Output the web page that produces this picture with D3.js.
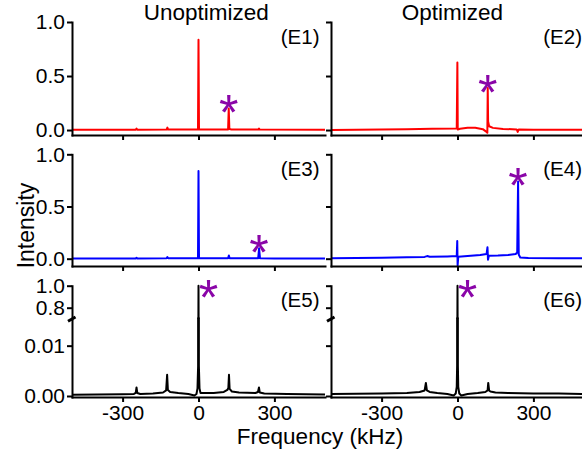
<!DOCTYPE html>
<html>
<head>
<meta charset="utf-8">
<script src="https://cdn.jsdelivr.net/npm/d3@7/dist/d3.min.js"></script>
<style>
  body { margin: 0; background: #fff; }
  text { font-family: "Liberation Sans", Arial, sans-serif; }
</style>
</head>
<body>
<script>
// spectra as [frequency (kHz), intensity]
var e1 = [[-500,0.003],[-300,0.003],[-248,0.003],[-245,0.014],[-242,0.003],[-126,0.004],[-123,0.022],[-120,0.004],
  [-2,0.004],[0,0.836],[2,0.004],[117,0.006],[119.5,0.2],[122,0.01],[130,0.005],[236,0.004],[239,0.014],[242,0.004],[500,0.003]];
var e2 = [[-500,0.0],[-400,0.002],[-300,0.004],[-200,0.007],[-100,0.012],[-3,0.014],[-0.5,0.625],[1,0.005],[10,0.012],
  [40,0.022],[70,0.022],[100,0.008],[112,-0.012],[118,-0.025],[119.5,0.39],[121,0.08],[125,0.035],[140,0.02],[180,0.01],
  [234,0.006],[238,-0.018],[242,0.005],[300,0.003],[400,0.002],[500,0.002]];
var e3 = [[-500,0.002],[-300,0.003],[-248,0.003],[-245,0.008],[-242,0.003],[-126,0.004],[-123,0.016],[-120,0.004],
  [-2,0.004],[0,0.84],[2,0.004],[117,0.005],[120,0.03],[123,0.005],[236,0.005],[239.5,0.1],[243,0.005],[300,0.003],[500,0.002]];
var e4 = [[-500,0.004],[-400,0.006],[-300,0.009],[-200,0.013],[-130,0.017],[-120,0.025],[-110,0.018],[-40,0.022],
  [-3,0.025],[-1,0.17],[0.5,-0.065],[3,0.018],[40,0.025],[90,0.035],[115,0.045],[118.5,0.11],[120.5,-0.01],[124,0.028],
  [160,0.03],[200,0.035],[230,0.045],[236,0.06],[239.5,0.74],[242,0.04],[248,0.012],[280,0.006],[400,0.004],[500,0.003]];
var e5 = [[-500,0.00025],[-400,0.0003],[-300,0.00035],[-255,0.0004],[-248,0.0006],[-245,0.0017],[-242,0.0006],[-230,0.0004],
  [-180,0.0005],[-140,0.0007],[-128,0.0011],[-124,0.0042],[-121,0.0012],[-112,0.0008],[-80,0.0006],[-40,0.0004],[-16,0.0001],
  [-8,0.0004],[-4,0.0015],[-1.5,0.006],[0,1.0],[1.5,0.006],[4,0.0015],[8,0.0006],[20,0.0006],[60,0.0006],[100,0.0008],
  [114,0.0012],[118,0.0016],[120.5,0.0042],[123,0.0014],[132,0.0009],[160,0.0007],[225,0.0006],[235,0.0008],[239,0.0017],
  [242,0.0007],[260,0.0005],[350,0.0004],[500,0.0003]];
var e6 = [[-500,0.0004],[-400,0.00045],[-300,0.0005],[-200,0.0006],[-150,0.0008],[-130,0.0011],[-125,0.0026],[-121,0.0011],
  [-110,0.0008],[-80,0.0006],[-40,0.0004],[-15,0.0001],[-7,0.0005],[-3,0.0018],[-1.5,0.006],[0,1.0],[1.5,0.006],[3,0.0018],
  [7,0.0005],[15,0.0001],[40,0.0004],[80,0.0006],[110,0.0008],[119,0.0011],[121.5,0.0026],[125,0.0011],[130,0.0009],
  [150,0.0007],[200,0.0006],[300,0.0005],[400,0.0005],[500,0.0004]];

var xTicks = [-300, 0, 300];
var yTicksMain = [0, 0.5, 1.0];
var yTicksLow = [0, 0.01];
var yTicksHigh = [0.8, 1.0];
var colTitles = ["Unoptimized", "Optimized"];
var panelLabels = ["(E1)", "(E2)", "(E3)", "(E4)", "(E5)", "(E6)"];
var starFreq = [120, 120, 240, 240, 0, 0];

var series = [e1, e2, e3, e4, e5, e6];
var colors = ["#ff0000", "#ff0000", "#0000ff", "#0000ff", "#000000", "#000000"];
var starColor = "#8a05a8";

var svg = d3.select("body").append("svg")
  .attr("width", 582)
  .attr("height", 455);

var cols = [[72, 325], [331, 584]];
var xs = cols.map(function(c) { return d3.scaleLinear().domain([-500, 500]).range(c); });

// each row: list of y segments (broken axis in the last row)
var rows = [
  {bottom: 135, segs: [{y: d3.scaleLinear().domain([-0.046, 1]).range([135, 22]), ticks: yTicksMain, fmt: d3.format(".1f")}]},
  {bottom: 266, segs: [{y: d3.scaleLinear().domain([-0.07, 1]).range([266, 154.3]), ticks: yTicksMain, fmt: d3.format(".1f")}]},
  {bottom: 397, segs: [
    {y: d3.scaleLinear().domain([-0.0002, 0.015]).range([397, 320.5]), ticks: yTicksLow, fmt: d3.format(".2f")},
    {y: d3.scaleLinear().domain([0.7, 1.0]).range([318.7, 285.7]), ticks: yTicksHigh, fmt: d3.format(".1f")}
  ]}
];

var defs = svg.append("defs");

series.forEach(function(data, i) {
  var r = Math.floor(i / 2), c = i % 2;
  var x = xs[c], row = rows[r];
  var g = svg.append("g");

  row.segs.forEach(function(seg, k) {
    var rng = seg.y.range();
    var id = "clip" + i + "_" + k;
    defs.append("clipPath").attr("id", id).append("rect")
      .attr("x", cols[c][0]).attr("width", cols[c][1] - cols[c][0])
      .attr("y", rng[1] - 3).attr("height", rng[0] - rng[1] + 3);

    var line = d3.line()
      .x(function(d) { return x(d[0]); })
      .y(function(d) { return seg.y(d[1]); });

    g.append("path")
      .datum(data)
      .attr("clip-path", row.segs.length > 1 ? "url(#" + id + ")" : null)
      .attr("fill", "none")
      .attr("stroke", colors[i])
      .attr("stroke-width", 2)
      .attr("stroke-linejoin", "round")
      .attr("d", line);

    var ya = d3.axisLeft(seg.y).tickValues(seg.ticks).tickSize(5).tickSizeOuter(0).tickPadding(2)
      .tickFormat(c == 0 ? seg.fmt : "");
    var ag = g.append("g")
      .attr("transform", "translate(" + cols[c][0] + ",0)")
      .call(ya);
    styleAxis(ag);
  });

  // join the axis across the break and draw the break mark
  if (row.segs.length > 1) {
    var x0 = cols[c][0];
    g.append("line").attr("x1", x0).attr("x2", x0)
      .attr("y1", row.segs[1].y.range()[0]).attr("y2", row.segs[0].y.range()[1])
      .attr("stroke", "#000").attr("stroke-width", 2);
    g.append("line").attr("x1", x0 - 4).attr("y1", 321.2).attr("x2", x0 + 3.5).attr("y2", 317)
      .attr("stroke", "#000").attr("stroke-width", 3);
  }

  var xa = d3.axisBottom(x).tickValues(xTicks).tickSize(5).tickSizeOuter(0).tickPadding(3)
    .tickFormat(function(d) { return String(d); });
  if (r < 2) xa.tickFormat("");
  var xg = g.append("g")
    .attr("transform", "translate(0," + row.bottom + ")")
    .call(xa);
  styleAxis(xg);

  // panel label
  var top = row.segs[row.segs.length - 1].y.range()[1];
  g.append("text")
    .attr("x", cols[c][1] - (c == 0 ? 5.5 : 2))
    .attr("y", top + 21.5)
    .attr("text-anchor", "end")
    .attr("font-size", "20.5px")
    .text(panelLabels[i]);

  // asterisk over the marked peak
  var near = data.filter(function(d) { return Math.abs(d[0] - starFreq[i]) < 5; });
  var pk = near.reduce(function(a, b) { return b[1] > a[1] ? b : a; });
  var seg = row.segs.length > 1 ? row.segs[1] : row.segs[0];
  var sx = x(pk[0]), sy = seg.y(pk[1]) - 7;
  if (r == 2) { sx += 10; sy += 7; }
  g.append("text")
    .attr("x", sx)
    .attr("y", sy + 29)
    .attr("text-anchor", "middle")
    .attr("font-size", "50px")
    .attr("fill", starColor)
    .text("*");
});

function styleAxis(ag) {
  ag.attr("font-family", null).attr("font-size", null);
  ag.select(".domain").attr("stroke-width", 2).attr("stroke-linecap", "square");
  ag.selectAll(".tick line").attr("stroke-width", 2);
  ag.selectAll(".tick text").attr("font-size", "21px").attr("fill", "#000");
}

svg.append("text").attr("x", 206.3).attr("y", 20).attr("text-anchor", "middle")
  .attr("font-size", "22.5px").text(colTitles[0]);
svg.append("text").attr("x", 452.5).attr("y", 20).attr("text-anchor", "middle")
  .attr("font-size", "22.5px").text(colTitles[1]);

svg.append("text")
  .attr("transform", "translate(33.5,225.5) rotate(-90)")
  .attr("text-anchor", "middle")
  .attr("font-size", "23px")
  .text("Intensity");

svg.append("text")
  .attr("x", 320).attr("y", 444)
  .attr("text-anchor", "middle")
  .attr("font-size", "22.5px")
  .text("Frequency (kHz)");
</script>
</body>
</html>
